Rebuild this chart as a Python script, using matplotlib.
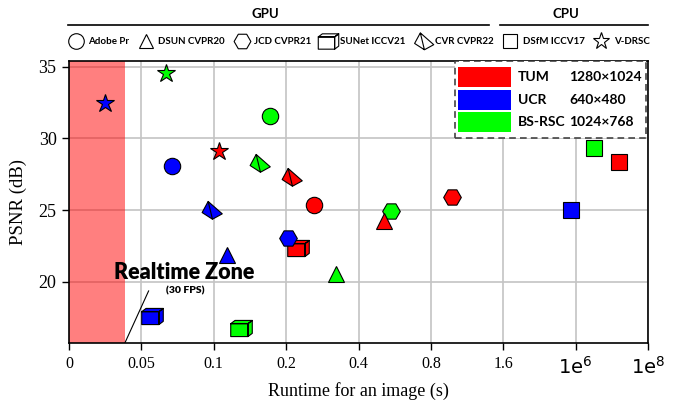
import matplotlib
matplotlib.use("Agg")
import matplotlib.pyplot as plt
from matplotlib.path import Path
from matplotlib.lines import Line2D
from matplotlib.patches import Rectangle

# ---------------- data ----------------
datasets = ["TUM", "UCR", "BS-RSC"]
resolutions = ["1280×1024", "640×480", "1024×768"]
dataset_colors = ["#ff0000", "#0000ff", "#00ff00"]

# x tick labels (axis is drawn in equally spaced tick units)
xtick_labels = ["0", "0.05", "0.1", "0.2", "0.4", "0.8", "1.6", "1e$^{6}$", "1e$^{8}$"]

# runtime positions (tick units) and PSNR per dataset [TUM, UCR, BS-RSC]
adobe_x = [3.39, 1.42, 2.78]
adobe_psnr = [25.34, 28.10, 31.60]
dsun_x = [4.35, 2.18, 3.69]
dsun_psnr = [24.27, 21.90, 20.55]
jcd_x = [5.29, 3.03, 4.45]
jcd_psnr = [25.94, 23.04, 24.97]
sunet_x = [3.16, 1.14, 2.38]
sunet_psnr = [22.35, 17.63, 16.77]
cvr_x = [3.07, 1.965, 2.63]
cvr_psnr = [27.30, 25.00, 28.30]
dsfm_x = [7.60, 6.94, 7.25]
dsfm_psnr = [28.38, 25.00, 29.36]
vdrsc_x = [2.07, 0.50, 1.34]
vdrsc_psnr = [29.15, 32.49, 34.58]

realtime_end = 0.77  # end of realtime zone (tick units)

# ---------------- custom markers ----------------
cube_path = Path(
    [(-1, -0.75), (0.6, -0.75), (0.6, 0.45), (-1, 0.45), (-1, -0.75),
     (-1, 0.45), (-0.6, 0.75), (1, 0.75), (0.6, 0.45), (-1, 0.45),
     (0.6, -0.75), (1, -0.45), (1, 0.75), (0.6, 0.45), (0.6, -0.75)],
    [Path.MOVETO, Path.LINETO, Path.LINETO, Path.LINETO, Path.CLOSEPOLY] * 3)
pyr_path = Path(
    [(-0.31, 0.84), (-0.87, -0.19), (0.09, -0.81), (1.0, -0.31), (-0.31, 0.84),
     (-0.31, 0.84), (0.09, -0.81)],
    [Path.MOVETO, Path.LINETO, Path.LINETO, Path.LINETO, Path.CLOSEPOLY,
     Path.MOVETO, Path.LINETO])

# draw order: circle, cube, hexagon, triangle, pyramid, square, star
methods = [
    ("Adobe Pr", "o", 11.8, adobe_x, adobe_psnr),
    ("SUNet ICCV21", cube_path, 15.5, sunet_x, sunet_psnr),
    ("JCD CVPR21", "H", 12.7, jcd_x, jcd_psnr),
    ("DSUN CVPR20", "^", 11, dsun_x, dsun_psnr),
    ("CVR CVPR22", pyr_path, 15.5, cvr_x, cvr_psnr),
    ("DSfM ICCV17", "s", 11.3, dsfm_x, dsfm_psnr),
    ("V-DRSC", "*", 13.5, vdrsc_x, vdrsc_psnr),
]
legend_order = ["Adobe Pr", "DSUN CVPR20", "JCD CVPR21", "SUNet ICCV21",
                "CVR CVPR22", "DSfM ICCV17", "V-DRSC"]

# ---------------- figure ----------------
fig = plt.figure(figsize=(6.75, 4.0), dpi=100)
ax = fig.add_axes([69 / 675, 1 - 343.3 / 400, (648 - 69) / 675, (343.3 - 61) / 400])

ax.set_xlim(0, 8)
ax.set_ylim(15.72, 35.4)
ax.set_axisbelow(True)
ax.grid(True, color="#c4c4c4", lw=1.2)
ax.axvspan(0, realtime_end, color="#ff0000", alpha=0.5, lw=0, zorder=1)

for name, mk, ms, xs, ys in methods:
    for x, y, c in zip(xs, ys, dataset_colors):
        ax.plot([x], [y], linestyle="none", marker=mk, markersize=ms,
                markerfacecolor=c, markeredgecolor="black", markeredgewidth=0.8,
                zorder=3)

serif = "Liberation Serif"
ax.set_xticks(range(len(xtick_labels)))
ax.set_xticklabels(xtick_labels, fontfamily=serif, fontsize=11.5)
for t in ax.get_xticklabels()[-2:]:
    t.set_fontsize(14)
    t.set_fontfamily("DejaVu Sans")
ax.set_yticks([20, 25, 30, 35])
ax.set_yticklabels(["20", "25", "30", "35"], fontfamily=serif, fontsize=13)
ax.tick_params(direction="out", length=5, width=1, pad=4)
ax.set_xlabel("Runtime for an image (s)", fontfamily=serif, fontsize=13, labelpad=3)
ax.set_ylabel("PSNR (dB)", fontfamily=serif, fontsize=13.5, labelpad=8)
for s in ax.spines.values():
    s.set_linewidth(1.2)

# realtime zone annotation
ax.plot([realtime_end, 1.10], [15.72, 19.37], color="black", lw=0.8, zorder=4)
ax.text(1.59, 20.65, "Realtime Zone", fontfamily="Lato", fontweight="heavy",
        fontsize=15.5, ha="center", va="center", zorder=5)
ax.text(1.60, 19.35, "(30 FPS)", fontfamily="Lato", fontweight="heavy",
        fontsize=7.5, ha="center", va="center", zorder=5)

# dataset legend box (manual, axes fraction)
ax.add_patch(Rectangle((0.667, 0.729), 0.330, 0.271, transform=ax.transAxes,
                       facecolor="white", edgecolor="#444444", lw=1.2,
                       linestyle=(0, (4, 2.5)), zorder=6))
row_top = [1 - (66.7 - 61) / 282.3, 1 - (90 - 61) / 282.3, 1 - (112 - 61) / 282.3]
for i, (d, r, c) in enumerate(zip(datasets, resolutions, dataset_colors)):
    yt = row_top[i]
    ax.add_patch(Rectangle((0.672, yt - 0.071), 0.091, 0.071, transform=ax.transAxes,
                           facecolor=c, edgecolor="none", zorder=7))
    ax.text(0.775, yt - 0.036, d, transform=ax.transAxes, fontfamily="Lato",
            fontweight="bold", fontsize=10, va="center", ha="left", zorder=8)
    ax.text(0.8636, yt - 0.036, r, transform=ax.transAxes, fontfamily="Lato",
            fontweight="bold", fontsize=10, va="center", ha="left", zorder=8)

# method legend (top, white icons)
mdict = {m[0]: m for m in methods}
handles = []
for name in legend_order:
    _, mk, ms, _, _ = mdict[name]
    handles.append(Line2D([], [], linestyle="none", marker=mk, markersize=ms * 0.95,
                          markerfacecolor="white", markeredgecolor="black",
                          markeredgewidth=0.8))
fig.legend(handles, legend_order, loc="center left", bbox_to_anchor=(60 / 675, 1 - 42 / 400),
           ncol=7, frameon=False, prop={"family": "Lato", "weight": "bold", "size": 7},
           handlelength=1.8, handletextpad=0.35, columnspacing=0.85, borderpad=0.2)

# GPU / CPU header
fig.add_artist(Line2D([68 / 675, 489 / 675], [1 - 25 / 400] * 2, color="black", lw=1.2))
fig.add_artist(Line2D([500 / 675, 648 / 675], [1 - 25 / 400] * 2, color="black", lw=1.2))
fig.text(265 / 675, 1 - 14 / 400, "GPU", fontfamily="Lato", fontweight="bold",
         fontsize=9.5, ha="center", va="center")
fig.text(566 / 675, 1 - 14 / 400, "CPU", fontfamily="Lato", fontweight="bold",
         fontsize=9.5, ha="center", va="center")

fig.savefig("out.png", dpi=100)
